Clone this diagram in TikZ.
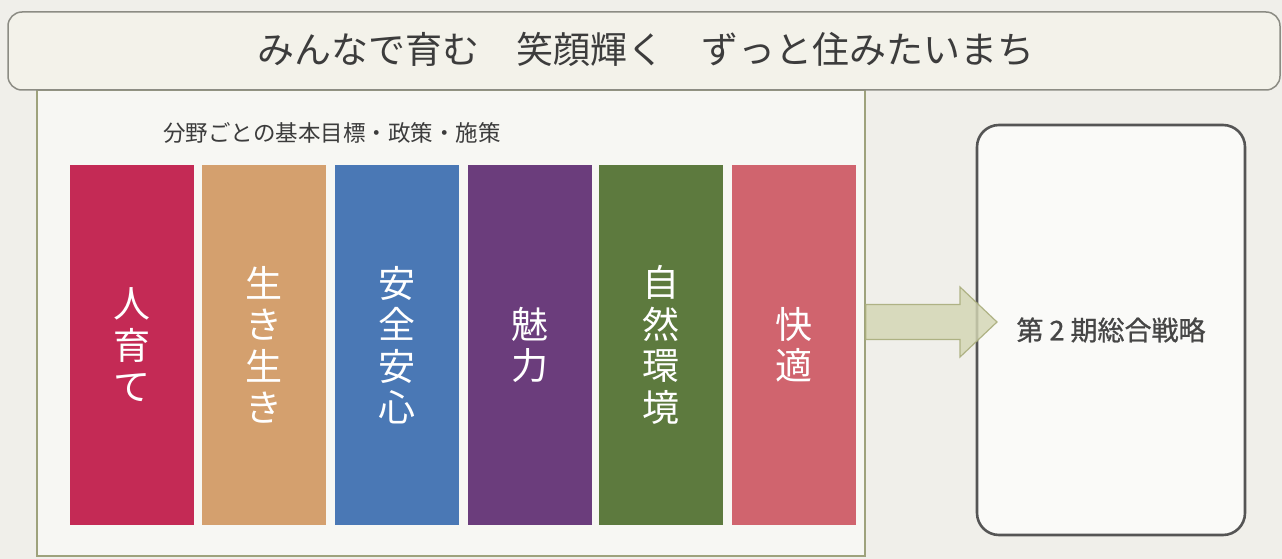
\documentclass[tikz,border=0pt]{standalone}
\usepackage{fontspec}
\newfontfamily\jp{Noto Sans CJK JP}
\newfontfamily\jpm[FakeBold=0.9]{Noto Sans CJK JP}
\usetikzlibrary{calc}
\definecolor{paper}{HTML}{F0EFEA}
\definecolor{bannerfill}{HTML}{F3F2EA}
\definecolor{bannerline}{HTML}{8C8C84}
\definecolor{panelfill}{HTML}{F7F7F3}
\definecolor{panelline}{HTML}{9EA27C}
\definecolor{txtdark}{HTML}{3C3C3C}
\definecolor{boxline}{HTML}{555555}
\definecolor{arrfill}{HTML}{D3D6B4}
\definecolor{arrline}{HTML}{A9AD7C}
\definecolor{cRed}{HTML}{C42A55}
\definecolor{cTan}{HTML}{D4A06E}
\definecolor{cBlue}{HTML}{4A78B5}
\definecolor{cPurple}{HTML}{6B3D7C}
\definecolor{cGreen}{HTML}{5D7A3E}
\definecolor{cRose}{HTML}{D0646E}
\begin{document}
\begin{tikzpicture}[x=1pt,y=-1pt,
  banner/.style={draw=bannerline, line width=1.5pt, fill=bannerfill, rounded corners=14pt,
    minimum width=1272pt, minimum height=78pt, inner sep=0pt},
  panel/.style={draw=panelline, line width=1.5pt, fill=panelfill,
    minimum width=828pt, minimum height=466pt, inner sep=0pt},
  bar/.style={draw=none, minimum width=124pt, minimum height=360pt, inner sep=0pt,
    text=white, font=\jp\fontsize{37}{41.5}\selectfont, align=center},
  sbox/.style={draw=boxline, line width=2.6pt, fill=panelfill!60!white, rounded corners=22pt,
    minimum width=268pt, minimum height=410pt, inner sep=0pt,
    text=txtdark!95!white, font=\jpm\fontsize{27}{30}\selectfont},
  arrowsty/.style={draw=arrline, line width=1.2pt, fill=arrfill, fill opacity=0.82, draw opacity=0.9}
]
\useasboundingbox (0,0) rectangle (1282,559);
\fill[paper] (0,0) rectangle (1282,559);

\node[panel] (panel) at (451,323) {};
\node[banner] (title) at (644,51) {};
\node[text=txtdark, font=\jp\fontsize{37}{40}\selectfont, inner sep=0pt] (titletext) at (646,49)
  {みんなで育む　笑顔輝く　ずっと住みたいまち};
\node[text=txtdark, font=\jp\fontsize{22.5}{26}\selectfont, inner sep=0pt] (sub) at (332,133)
  {分野ごとの基本目標・政策・施策};

\node[bar, fill=cRed]    (b1) at (131.5,345) {人\\育\\て};
\node[bar, fill=cTan]    (b2) at (264,345)   {生\\き\\生\\き};
\node[bar, fill=cBlue]   (b3) at (396.5,345) {安\\全\\安\\心};
\node[bar, fill=cPurple] (b4) at (529.5,345) {魅\\力};
\node[bar, fill=cGreen]  (b5) at (661,345)   {自\\然\\環\\境};
\node[bar, fill=cRose]   (b6) at (794,345)   {快\\適};

\node[sbox] (box) at (1111,330) {第 2 期総合戦略};

\coordinate (a0) at (panel.east |- 0,322);
\coordinate (a1) at (997,322);
\path[arrowsty] ($(a0)+(0,-17.5)$) -- ($(a1)+(-37,-17.5)$) -- ($(a1)+(-37,-35)$) -- (a1)
  -- ($(a1)+(-37,35)$) -- ($(a1)+(-37,17.5)$) -- ($(a0)+(0,17.5)$) -- cycle;
\end{tikzpicture}
\end{document}
